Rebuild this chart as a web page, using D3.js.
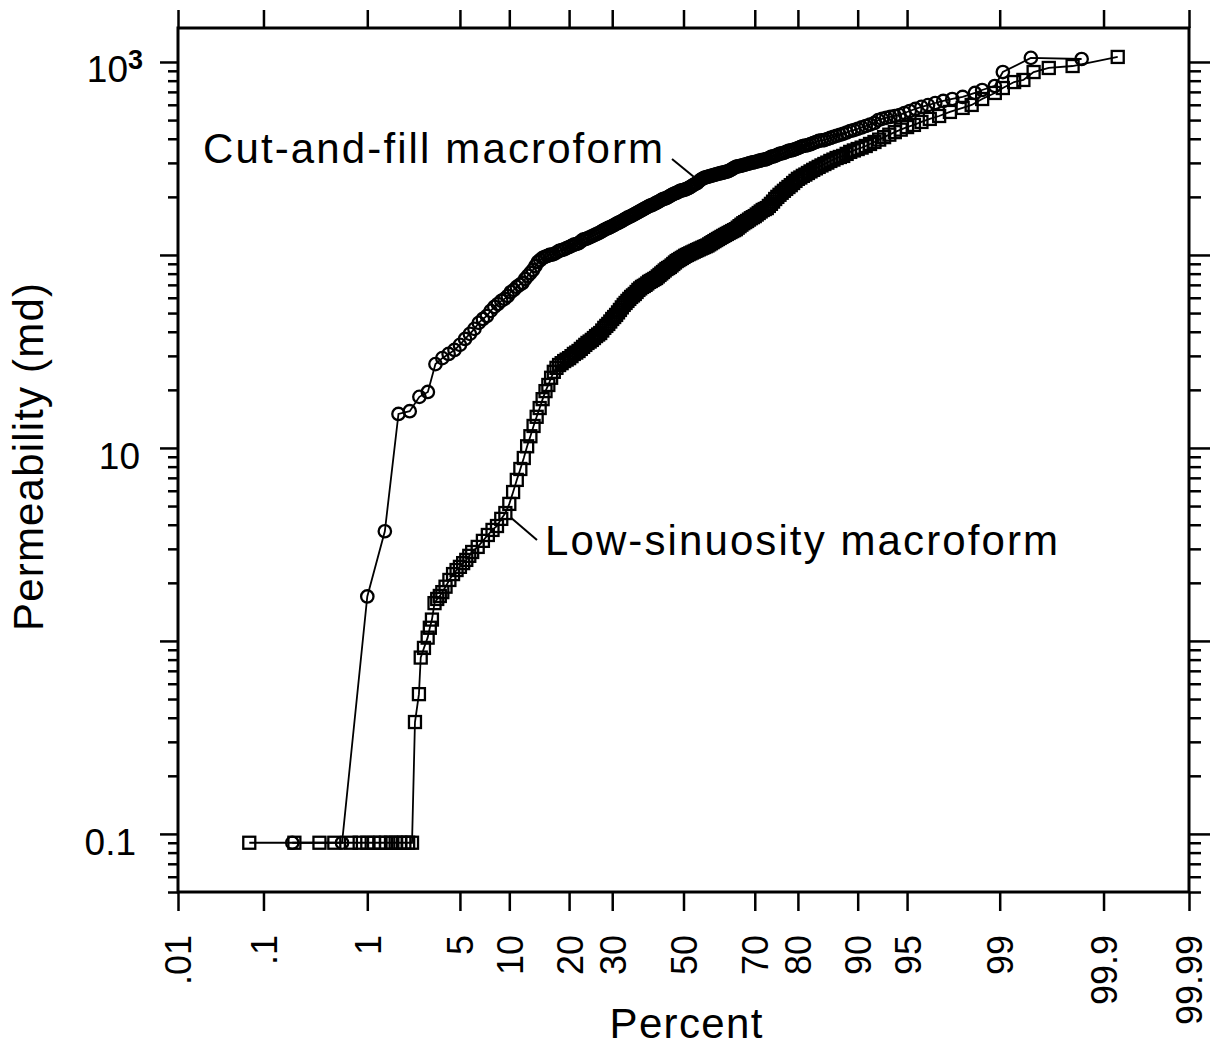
<!DOCTYPE html>
<html>
<head>
<meta charset="utf-8">
<script src="https://cdn.jsdelivr.net/npm/d3@7"></script>
<style>
  body { margin: 0; background: #fff; }
  svg text { font-family: "Liberation Sans", Arial, Helvetica, sans-serif; fill: #000; }
</style>
</head>
<body>
<div id="chart"></div>
<script>
// ── Data ────────────────────────────────────────────────────────────────────
const pctTicks  = [0.01, 0.1, 1, 5, 10, 20, 30, 50, 70, 80, 90, 95, 99, 99.9, 99.99];
const pctLabels = [".01", ".1", "1", "5", "10", "20", "30", "50", "70", "80", "90", "95", "99", "99.9", "99.99"];

// Cut-and-fill macroform (circles): [percent, permeability md]
const cutAndFill = [
  [0.2,0.09],[0.6,0.09],[1.0,1.7],[1.4,3.7],[1.8,15],[2.2,15.5],[2.6,18.4],[3.0,19.5],[3.4,27.2],[3.8,29.2],
  [4.2,30.7],[4.6,32.2],[5.0,34.2],[5.4,36.7],[5.8,39],[6.2,41.4],[6.6,44.5],[7.0,46.6],[7.4,48.3],[7.8,51.3],
  [8.2,53.8],[8.6,55.7],[9.0,57.8],[9.4,59.2],[9.8,61.3],[10.2,64.3],[10.6,65.9],[11.0,68.3],[11.4,70],[11.8,71.6],
  [12.2,75.1],[12.6,77.9],[13.0,80.7],[13.4,83.6],[13.8,87.7],[14.2,92],[14.6,94.2],[15.0,96.5],[15.4,97.7],[15.8,98.8],
  [16.2,100],[16.6,100.5],
  [17,101],[17.5,103],[18,105],[18.5,106],[19,107],[19.5,108.5],[20,110],[20.5,111.5],[21,113],[21.5,114],
  [22,115],[22.5,117.5],[23,120],[23.5,121],[24,122],[24.5,123.5],[25,125],[25.5,126.5],[26,128],[26.5,129.5],
  [27,131],[27.5,133],[28,135],[28.5,136.5],[29,138],[29.5,139.5],[30,141],[30.5,143],[31,145],[31.5,146.5],
  [32,148],[32.5,150],[33,152],[33.5,154],[34,156],[34.5,157.5],[35,159],[35.5,161],[36,163],[36.5,165],
  [37,167],[37.5,169],[38,171],[38.5,173],[39,175],[39.5,177],[40,179],[40.5,180.5],[41,182],[41.5,184],
  [42,186],[42.5,188],[43,190],[43.5,192.5],[44,195],[44.5,196],[45,197],[45.5,199.5],[46,202],[46.5,204.5],
  [47,207],[47.5,208.5],[48,210],[48.5,212.5],[49,215],[49.5,216],[50,217],[50.5,218.5],[51,220],[51.5,222.5],
  [52,225],[52.5,228],[53,231],[53.5,233.5],[54,236],[54.5,240.5],[55,245],[55.5,248],[56,251],[56.5,252.5],
  [57,254],[57.5,255.5],[58,257],[58.5,258.5],[59,260],[59.5,261.5],[60,263],[60.5,264.5],[61,266],[61.5,267.5],
  [62,269],[62.5,270.5],[63,272],[63.5,275.5],[64,279],[64.5,282.5],[65,286],[65.5,287.5],[66,289],[66.5,290.5],
  [67,292],[67.5,294],[68,296],[68.5,298],[69,300],[69.5,301.5],[70,303],[70.5,305],[71,307],[71.5,309],
  [72,311],[72.5,312.5],[73,314],[73.5,318],[74,322],[74.5,324],[75,326],[75.5,330],[76,334],[76.5,336],
  [77,338],[77.5,342],[78,346],[78.5,348],[79,350],[79.5,354],[80,358],[80.5,362],[81,367],[81.5,369],
  [82,371],[82.5,375],[83,380],[83.5,385],[84,390],[84.5,392],[85,394],[85.5,399],[86,404],[86.5,409],
  [87,414],[87.5,419],[88,424],[88.5,431],[89,439],[89.5,444],[90,450],[90.5,458],[91,466],[91.5,474],
  [92,483],[92.4,500],[92.8,507],[93.2,513],[93.6,519],[94.0,525],[94.4,531],[94.8,544],[95.2,557],[95.6,571],
  [96.0,585],[96.4,598],[96.8,613],[97.2,628],[97.6,643],[98.0,659],[98.4,691],[98.6,716],[98.9,751],[99.06,887],
  [99.47,1050],[99.83,1036]
];

// Low-sinuosity macroform (squares): [percent, permeability md]
const lowSinuosity = [
  [0.07,0.09],[0.21,0.09],[0.37,0.09],[0.51,0.09],[0.72,0.09],[0.86,0.09],[1.0,0.09],[1.14,0.09],[1.29,0.09],[1.43,0.09],
  [1.57,0.09],[1.71,0.09],[1.86,0.09],[2.0,0.09],[2.14,0.09],[2.29,0.09],
  [2.41,0.38],[2.58,0.53],[2.66,0.82],[2.81,0.92],[2.99,1.04],[3.1,1.17],[3.21,1.29],
  [3.35,1.57],[3.5,1.65],[3.65,1.71],[3.8,1.79],[4.0,1.91],[4.25,2.07],[4.5,2.22],[4.75,2.33],[5.0,2.42],[5.25,2.53],
  [5.5,2.63],[5.75,2.76],[6.0,2.89],[6.5,3.07],[7,3.30],[7.5,3.54],[8,3.76],[8.5,3.94],[9,4.29],[9.5,4.60],
  [10,5.13],[10.5,5.91],[11,6.83],[11.5,7.78],[12,8.87],[12.5,10.2],[13,11.5],[13.5,13.0],[14,14.5],[14.5,16.1],
  [15,17.9],[15.5,19.7],[16,21.2],[16.5,23.1],[17,24.8],[17.5,26.0],[18,26.9],[18.5,27.5],
  [19,28.2],[19.5,28.7],[20,29.2],[20.5,29.9],[21,30.7],[21.5,31.2],[22,31.8],[22.5,32.6],[23,33.4],[23.5,34.2],
  [24,35.0],[24.5,35.6],[25,36.3],[25.5,37.1],[26,38.0],[26.5,38.7],[27,39.4],[27.5,40.6],[28,41.9],[28.5,42.9],
  [29,43.9],[29.5,45.2],[30,46.6],[30.5,47.7],[31,48.9],[31.5,50.4],[32,51.9],[32.5,53.5],[33,55.1],[33.5,56.4],
  [34,57.8],[34.5,59.2],[35,60.6],[35.5,61.7],[36,62.8],[36.5,64.3],[37,65.9],[37.5,67.1],[38,68.3],[38.5,69.1],
  [39,70.0],[39.5,71.2],[40,72.5],[40.5,73.3],[41,74.2],[41.5,75.1],[42,76.0],[42.5,77.4],[43,78.8],[43.5,80.2],
  [44,81.6],[44.5,83.1],[45,84.6],[45.5,85.6],[46,86.7],[46.5,88.2],[47,89.8],[47.5,91.4],[48,93.0],[48.5,94.1],
  [49,95.3],[49.5,96.5],[50,97.7],[50.5,99],[51,100],[51.5,101],[52,102],[52.5,103],[53,104],[53.5,105],
  [54,106],[54.5,107],[55,108],[55.5,109],[56,110],[56.5,111],[57,112],[57.5,113.5],[58,115],[58.5,116.5],
  [59,118],[59.5,119.5],[60,121],[60.5,122.5],[61,124],[61.5,125.5],[62,127],[62.5,128.5],[63,130],[63.5,131.5],
  [64,133],[64.5,134.5],[65,136],[65.5,138.5],[66,141],[66.5,143.5],[67,146],[67.5,148],[68,150],[68.5,152.5],
  [69,155],[69.5,157],[70,159],[70.5,162],[71,165],[71.5,168],[72,171],[72.5,173],[73,175],[73.5,179.5],
  [74,184],[74.5,189],[75,195],[75.5,200],[76,205],[76.5,210],[77,215],[77.5,220],[78,225],[78.5,230],
  [79,236],[79.5,242],[80,248],[80.5,252],[81,257],[81.5,261],[82,266],[82.5,271],[83,276],[83.5,281],
  [84,286],[84.5,291],[85,296],[85.5,301],[86,307],[86.5,312],[87,318],[87.5,322],[88,326],[88.5,334],
  [89,342],[89.5,348],[90,354],[90.5,360],[91,367],[91.5,376],[92,385],[92.5,396],[93,408],[93.5,420],
  [94,433],[94.5,446],[95,460],[95.5,472],[96,489],[96.5,507],[97,525],[97.5,551],[98,578],[98.3,599],
  [98.6,643],[98.9,691],[99.06,733],[99.25,787],[99.38,807],[99.5,887],[99.64,931],[99.79,953],[99.93,1062]
];

// ── Layout ──────────────────────────────────────────────────────────────────
const W = 1221, H = 1048;
const M = { left: 178, right: 1189, top: 28, bottom: 892 };

// inverse normal CDF (Acklam) – turns a probability into normal-score units
function probit(p) {
  const a = [-3.969683028665376e+01, 2.209460984245205e+02, -2.759285104469687e+02, 1.383577518672690e+02, -3.066479806614716e+01, 2.506628277459239e+00];
  const b = [-5.447609879822406e+01, 1.615858368580409e+02, -1.556989798598866e+02, 6.680131188771972e+01, -1.328068155288572e+01];
  const c = [-7.784894002430293e-03, -3.223964580411365e-01, -2.400758277161838e+00, -2.549732539343734e+00, 4.374664141464968e+00, 2.938163982698783e+00];
  const d = [7.784695709041462e-03, 3.224671290700398e-01, 2.445134137142996e+00, 3.754408661907416e+00];
  const pl = 0.02425;
  let q, r;
  if (p < pl) {
    q = Math.sqrt(-2 * Math.log(p));
    return (((((c[0]*q+c[1])*q+c[2])*q+c[3])*q+c[4])*q+c[5]) / ((((d[0]*q+d[1])*q+d[2])*q+d[3])*q+1);
  }
  if (p > 1 - pl) {
    q = Math.sqrt(-2 * Math.log(1 - p));
    return -(((((c[0]*q+c[1])*q+c[2])*q+c[3])*q+c[4])*q+c[5]) / ((((d[0]*q+d[1])*q+d[2])*q+d[3])*q+1);
  }
  q = p - 0.5; r = q * q;
  return (((((a[0]*r+a[1])*r+a[2])*r+a[3])*r+a[4])*r+a[5])*q / (((((b[0]*r+b[1])*r+b[2])*r+b[3])*r+b[4])*r+1);
}

const zEdge = probit(0.9999);
const x  = d3.scaleLinear().domain([-zEdge, zEdge]).range([M.left, M.right]);
const px = p => x(probit(p / 100));
const y  = d3.scaleLog().domain([0.05, 1500]).range([M.bottom, M.top]);

const svg = d3.select("#chart").append("svg")
    .attr("width", W).attr("height", H);
svg.append("rect").attr("width", W).attr("height", H).attr("fill", "#fff");

// ── Axes ────────────────────────────────────────────────────────────────────
const zTicks = pctTicks.map(p => probit(p / 100));

const xBottom = svg.append("g")
    .attr("transform", `translate(0,${M.bottom})`)
    .call(d3.axisBottom(x).tickValues(zTicks).tickSize(19).tickFormat((d, i) => pctLabels[i]));
svg.append("g")
    .attr("transform", `translate(0,${M.top})`)
    .call(d3.axisTop(x).tickValues(zTicks).tickSize(18).tickFormat(""));

xBottom.selectAll("text")
    .attr("transform", "rotate(-90)")
    .attr("x", -43).attr("y", 0).attr("dy", "0.36em")
    .attr("text-anchor", "end")
    .style("font-size", "36px");

const allY   = y.ticks();
const majorY = allY.filter(v => Math.abs(Math.log10(v) - Math.round(Math.log10(v))) < 1e-9);
const minorY = allY.filter(v => !majorY.includes(v));

svg.append("g").attr("transform", `translate(${M.left},0)`)
    .call(d3.axisLeft(y).tickValues(majorY).tickSize(18).tickFormat(""));
svg.append("g").attr("transform", `translate(${M.left},0)`)
    .call(d3.axisLeft(y).tickValues(minorY).tickSize(10).tickFormat(""));
svg.append("g").attr("transform", `translate(${M.right},0)`)
    .call(d3.axisRight(y).tickValues(majorY).tickSize(21).tickFormat(""));
svg.append("g").attr("transform", `translate(${M.right},0)`)
    .call(d3.axisRight(y).tickValues(minorY).tickSize(12).tickFormat(""));

svg.selectAll(".domain").remove();
svg.selectAll(".tick line").attr("stroke", "#000").attr("stroke-width", 2.5);

// frame
svg.append("rect")
    .attr("x", M.left).attr("y", M.top)
    .attr("width", M.right - M.left).attr("height", M.bottom - M.top)
    .attr("fill", "none").attr("stroke", "#000").attr("stroke-width", 3);

// y tick labels: 10^3, 10, 0.1
const yl = svg.append("g").style("font-size", "37px").attr("text-anchor", "end");
const t3 = yl.append("text").attr("x", 143).attr("y", y(1000) + 20);
t3.append("tspan").text("10");
t3.append("tspan").attr("dy", -13).style("font-size", "27px").style("font-weight", "bold").text("3");
yl.append("text").attr("x", 140).attr("y", y(10) + 21).text("10");
yl.append("text").attr("x", 136).attr("y", y(0.1) + 21).text("0.1");

// axis titles
svg.append("text")
    .attr("x", 686).attr("y", 1038)
    .attr("text-anchor", "middle")
    .attr("textLength", 153).attr("lengthAdjust", "spacing")
    .style("font-size", "42px")
    .text("Percent");
svg.append("text")
    .attr("transform", "translate(43,457) rotate(-90)")
    .attr("text-anchor", "middle")
    .attr("textLength", 348).attr("lengthAdjust", "spacing")
    .style("font-size", "42px")
    .text("Permeability (md)");

// ── Series ──────────────────────────────────────────────────────────────────
const line = d3.line().x(d => px(d[0])).y(d => y(d[1]));

const plot = svg.append("g");
[lowSinuosity, cutAndFill].forEach(data => {
  plot.append("path").datum(data)
      .attr("d", line)
      .attr("fill", "none").attr("stroke", "#000").attr("stroke-width", 1.8);
});

plot.append("g").selectAll("rect").data(lowSinuosity).join("rect")
    .attr("x", d => px(d[0]) - 6).attr("y", d => y(d[1]) - 6)
    .attr("width", 12).attr("height", 12)
    .attr("fill", "none").attr("stroke", "#000").attr("stroke-width", 2.3);

plot.append("g").selectAll("circle").data(cutAndFill).join("circle")
    .attr("cx", d => px(d[0])).attr("cy", d => y(d[1])).attr("r", 6.2)
    .attr("fill", "none").attr("stroke", "#000").attr("stroke-width", 2.3);

// ── Annotations ─────────────────────────────────────────────────────────────
const note = svg.append("g").style("font-size", "42px");
note.append("text").attr("x", 203).attr("y", 163)
    .attr("textLength", 460).attr("lengthAdjust", "spacing")
    .text("Cut-and-fill macroform");
note.append("line")
    .attr("x1", 672).attr("y1", 159)
    .attr("x2", px(53)).attr("y2", y(231) - 8)
    .attr("stroke", "#000").attr("stroke-width", 2);

note.append("text").attr("x", 545).attr("y", 555)
    .attr("textLength", 513).attr("lengthAdjust", "spacing")
    .text("Low-sinuosity macroform");
note.append("line")
    .attr("x1", 537).attr("y1", 540)
    .attr("x2", px(10) + 2).attr("y2", y(5.13) + 14)
    .attr("stroke", "#000").attr("stroke-width", 2);
</script>
</body>
</html>
